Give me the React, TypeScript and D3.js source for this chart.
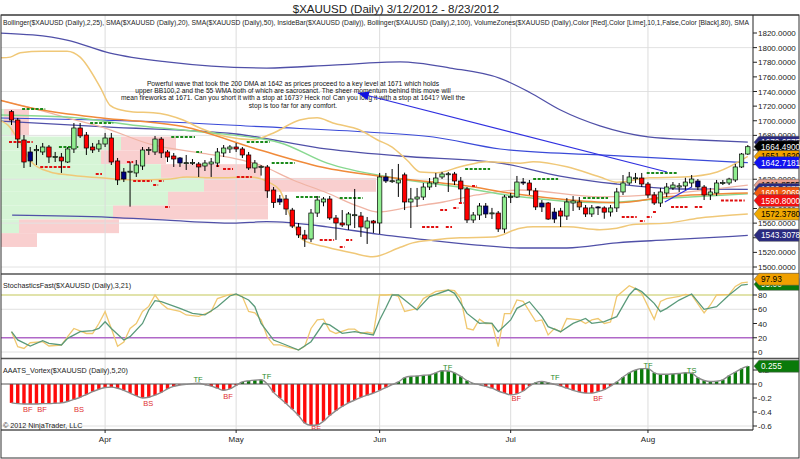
import React from 'react';
import * as d3 from 'd3';

// ---------- DATA ----------
const opens = [1712.4,1701.0,1673.7,1657.3,1659.0,1657.3,1664.1,1650.4,1650.4,1643.6,1661.4,1690.1,1680.5,1664.1,1661.4,1668.2,1676.4,1645.0,1629.9,1630.0,1628.6,1638.1,1659.5,1657.3,1675.0,1657.3,1651.8,1649.1,1642.2,1642.5,1640.9,1638.1,1640.9,1642.2,1655.9,1661.4,1664.1,1661.4,1653.2,1635.4,1637.0,1636.8,1605.3,1593.0,1593.0,1577.9,1554.7,1543.8,1538.3,1573.8,1588.9,1593.0,1567.0,1560.2,1557.5,1571.0,1569.7,1553.3,1562.9,1560.2,1623.1,1617.6,1614.9,1626.0,1588.9,1593.0,1595.7,1609.4,1614.9,1623.1,1627.2,1627.2,1617.6,1606.7,1564.3,1571.1,1583.4,1573.0,1573.8,1552.0,1595.7,1595.7,1616.2,1614.9,1604.0,1587.5,1587.5,1575.2,1576.6,1569.7,1587.5,1588.9,1580.8,1572.5,1582.1,1580.8,1575.2,1580.8,1602.6,1614.9,1621.5,1621.7,1613.5,1598.5,1587.5,1601.2,1608.1,1609.4,1610.8,1614.9,1617.6,1609.4,1598.5,1601.2,1614.9,1614.9,1619.0,1636.8,1654.5];
const highs = [1714.7,1703.8,1680.5,1664.1,1666.8,1669.6,1666.8,1657.3,1655.9,1664.1,1696.9,1696.9,1684.6,1669.6,1673.7,1683.3,1683.3,1649.1,1635.4,1644.0,1646.3,1664.1,1664.1,1679.2,1677.8,1660.0,1655.9,1650.4,1653.2,1647.7,1643.6,1646.3,1649.1,1662.7,1666.8,1666.8,1669.6,1664.1,1657.3,1646.3,1639.5,1639.5,1609.4,1598.5,1598.5,1580.8,1560.2,1550.7,1579.3,1597.1,1595.7,1597.1,1571.1,1577.9,1575.2,1606.7,1575.2,1568.4,1564.3,1628.6,1628.6,1634.0,1640.9,1629.0,1608.1,1608.1,1614.9,1621.7,1628.6,1630.0,1630.0,1630.0,1623.1,1609.4,1575.2,1587.5,1587.5,1580.8,1576.6,1598.5,1601.2,1624.5,1621.7,1619.0,1608.1,1591.6,1588.9,1580.8,1580.8,1594.3,1597.1,1595.7,1584.8,1584.8,1583.3,1583.0,1584.8,1608.1,1625.8,1630.0,1628.6,1628.6,1616.2,1602.6,1608.1,1614.9,1616.2,1614.9,1622.0,1625.8,1620.3,1612.1,1608.1,1619.0,1619.0,1622.0,1640.9,1655.9,1666.8];
const lows = [1694.2,1662.7,1635.4,1636.8,1639.5,1653.2,1642.2,1643.6,1628.6,1642.2,1655.9,1676.4,1653.2,1655.9,1657.3,1664.1,1639.5,1612.1,1616.2,1582.5,1623.1,1632.7,1653.2,1653.2,1649.1,1643.6,1636.8,1636.8,1632.7,1639.5,1623.1,1631.3,1623.1,1636.8,1650.4,1655.9,1657.3,1649.1,1632.7,1628.6,1625.0,1594.5,1580.8,1584.8,1571.1,1553.3,1539.7,1527.4,1534.2,1568.4,1583.0,1564.3,1537.0,1554.7,1550.7,1553.3,1541.1,1531.5,1546.6,1545.2,1614.9,1614.9,1595.8,1577.9,1553.3,1582.1,1591.6,1605.3,1609.4,1620.3,1602.6,1612.1,1588.9,1560.2,1560.2,1564.3,1567.0,1565.6,1547.9,1546.6,1587.5,1594.3,1612.1,1598.5,1577.9,1575.2,1564.3,1560.2,1554.7,1564.3,1576.6,1577.9,1568.4,1568.4,1571.1,1566.0,1569.0,1575.2,1598.5,1612.1,1614.9,1609.4,1594.5,1584.8,1582.1,1595.7,1605.3,1602.6,1605.3,1609.0,1605.3,1591.6,1591.6,1597.1,1612.1,1612.1,1616.2,1635.4,1653.2];
const closes = [1701.0,1675.0,1643.6,1645.0,1660.5,1664.1,1650.4,1651.0,1645.0,1661.4,1690.1,1679.2,1662.7,1660.0,1668.2,1676.4,1643.6,1619.0,1620.3,1631.0,1639.5,1660.0,1660.5,1675.0,1655.9,1650.4,1647.7,1642.2,1642.7,1643.0,1636.8,1642.2,1643.6,1657.3,1662.7,1664.1,1661.4,1653.2,1635.4,1642.2,1637.5,1604.1,1588.2,1588.9,1579.3,1556.0,1543.8,1538.3,1573.8,1591.6,1593.0,1567.0,1560.2,1557.5,1572.5,1571.5,1554.7,1562.9,1560.2,1623.1,1617.6,1618.0,1619.0,1588.9,1593.0,1595.7,1609.4,1614.9,1621.7,1627.2,1627.5,1617.6,1606.7,1564.3,1571.1,1583.4,1572.5,1574.0,1552.0,1595.7,1596.5,1616.2,1614.9,1605.3,1582.1,1582.1,1565.6,1565.6,1569.7,1588.9,1590.3,1582.1,1572.5,1580.8,1580.8,1575.0,1580.8,1602.6,1614.9,1623.1,1622.0,1613.5,1598.5,1587.5,1602.6,1609.4,1612.1,1611.0,1616.2,1620.3,1609.4,1598.5,1602.6,1614.9,1615.5,1620.3,1636.8,1654.5,1664.49];
const insideBars = [3,18,27,43,60,76,82,85,87,94,110];
const orangeBars = [91];

const monthIdx = [15,36,59,80,102];
const monthNames = ['Apr','May','Jun','Jul','Aug'];
const priceTicks = d3.range(1500, 1821, 20);
const priceGrid = [1500,1560,1620,1680,1740,1800];
const stochTicks = [0,20,40,60,80];
const vortexTicks = [0.2,0,-0.2,-0.4,-0.6];

// indicator lines [barIndex, price]
const bb25Upper = [[-1.8,1786],[-0.2,1787],[1.4,1793],[5,1795],[8.9,1795],[11,1787],[14.2,1746],[15.8,1721],[17.4,1715],[19.5,1712],[22.7,1711],[27.5,1701],[30.2,1690],[34.5,1678],[38.7,1674],[41.9,1683],[46.2,1701],[49,1704],[51.5,1697],[55.9,1687],[58.6,1674],[61,1664],[63.4,1646],[65.5,1630],[68.2,1629],[71.9,1637],[76.2,1644],[81.5,1642],[83.6,1644],[89,1637],[94.3,1623],[97,1616],[102.3,1622],[107.6,1623],[113.1,1630],[118,1651.2]];
const bb25Lower = [[-1.8,1700],[-0.56,1694],[1.36,1670],[3.4,1642],[6.2,1630],[8.9,1626],[14.2,1622],[19.5,1619],[24.9,1620],[28.1,1623],[32.9,1622],[38.2,1623],[41.4,1615],[43,1605],[44.6,1571],[46.7,1537],[50.6,1527],[54.7,1519],[57.9,1514],[62.3,1527],[64.3,1533],[67.6,1537],[71.9,1540],[77.2,1541],[81.5,1553],[83.6,1555],[89,1555],[94.3,1551],[97,1553],[99.6,1558],[105,1560],[110.3,1567],[115.6,1571],[118,1572.4]];
const bb25Mid = [[-1.8,1728],[3.4,1717],[8.9,1704],[15,1690],[22.2,1668],[30.2,1656],[36,1648],[39.8,1639.5],[45.1,1619],[50.6,1601.2],[55.85,1582.1],[58.6,1575.2],[63.9,1582.1],[69.2,1588.9],[74.6,1598.5],[81.5,1605.3],[94.3,1596],[105,1600],[118,1611.9]];
const sma20 = [[-1.8,1728],[3.4,1717],[14.2,1704],[27.5,1692],[39.8,1660],[50.6,1635],[61.1,1622],[71.9,1612],[81.5,1599],[89,1592],[97,1588],[105,1596],[118,1601.2]];
const sma50 = [[-1.8,1708],[8.9,1705],[19.5,1694],[30.2,1685],[43,1670],[50.6,1642],[61.1,1622],[71.9,1609],[81.5,1596],[94.3,1588],[105,1594],[118,1600]];
const bb100Upper = [[-1.8,1820],[3.4,1817.3],[8.9,1810.4],[15.8,1792.6],[24.9,1780.4],[40.9,1772.1],[51.5,1776.2],[62.3,1780.4],[70.3,1772.1],[78.3,1758],[83,1739],[87.9,1715],[94.3,1693],[102,1678],[110.3,1673.7],[118,1670.7]];
const bb100Mid = [[-1.8,1699.6],[15,1691.5],[36,1681.9],[49.4,1662.7],[62.3,1651.8],[78.3,1642.2],[87.9,1624.4],[97,1613.5],[107.1,1606.7],[118,1606.1]];
const bb100Lower = [[0.1,1571],[15.8,1568],[24.9,1564],[35.5,1560],[40.9,1562],[50.6,1555],[58.6,1545],[66.6,1537],[74.6,1530],[81.5,1526],[89,1526],[97,1533],[105,1537],[115.6,1542],[118,1543.3]];
const sma200 = [[-1.8,1703.8],[14.2,1701],[24.9,1698.3],[40.9,1691.5],[57,1684.6],[67.6,1677.8],[78.3,1661.4],[94.3,1653.2],[118,1642.7]];
const arrowLine = [[105.05,1629.9],[55.5,1737.9]];
const trendLine = [[104.7,1588.9],[109,1609.4]];

// inside bar levels [startIdx, endIdx, price]
const insideHighs = [[1.7,5.4,1716.1],[7.6,10.7,1664.1],[12.6,16.3,1696.9],[25.6,29.4,1677.8],[29.6,30.5,1657.3],[37.7,41.4,1670.9],[41.7,45.4,1642.2],[45.6,49.4,1595.7],[52.6,56.3,1594.3],[72.7,76.7,1634.0],[83.6,87.6,1620.3],[91.6,95.6,1594.3],[101.8,106.6,1628.6]];
const insideLows = [[-0.4,3.4,1670.9],[4.6,9.4,1636.8],[13.5,14.5,1627.2],[18.5,19.5,1643.6],[19.5,22.5,1617.6],[22.7,23.5,1612.1],[23.6,24.4,1617.6],[24.6,25.4,1582.1],[32.8,33.4,1638.1],[33.9,35.5,1634.0],[36.1,38.5,1623.1],[49.4,51.7,1537.0],[53.6,54.6,1537.0],[52.6,53.4,1527.4],[65.8,68.4,1554.7],[69.6,70.6,1554.7],[68.7,69.8,1577.9],[70.8,71.6,1580.8],[71.7,72.5,1587.5],[73.8,74.6,1610.8],[97.8,100.2,1568.4],[100.7,101.5,1562.9],[101.8,102.6,1568.4],[102.8,103.4,1575.2],[105.7,108.4,1582.1],[109.5,110.7,1582.1],[113.7,117.5,1590.8]];

// volume zones: top price, bottom price, up volume, down volume
const zoneTops = [1716.1,1697.2,1678.4,1659.5,1640.6,1621.8,1602.9,1584.0,1565.1,1546.3];
const zoneBottoms = [1697.2,1678.4,1659.5,1640.6,1621.8,1602.9,1584.0,1565.1,1546.3,1527.4];
const zoneUpVol = [3,10,120,100,160,203,167,112,18,0];
const zoneDownVol = [25,18,55,65,100,172,100,155,100,36];

const stochK = [[0,28.5],[1,7.5],[2,5],[3,13],[5,14.5],[6,8.4],[8,9.8],[9,21.5],[10,33],[12,26],[13,26],[14,40],[15,56.6],[16,33],[17,8],[18,14],[19,33],[20,40],[21,57],[22,64],[23,80],[24,68],[25,61],[27,57],[28,52],[30,50],[32,57],[33,75],[35,81],[36,81],[37,78],[38,57],[39,55],[40,45],[41,21],[42,10],[43,10],[45,5],[46,3],[47,8],[48,33],[49,45],[50,46],[51,30],[52,26],[54,32],[55,32],[56,26],[57,28],[58,26],[59,80],[60,80],[61,81],[62,78],[63,57],[65,61],[66,75],[68,85],[70,87],[71,86],[72,75],[73,33],[74,31],[75,46],[76,40],[77,40],[78,7.5],[79,54],[80,54],[81,73],[82,71],[84,43],[85,45],[86,24],[87,33],[88,28],[89,47],[91,45],[92,40],[93,45],[94,47],[95,40],[96,42],[97,78],[99,93],[100,89],[101,82],[102,64],[103,46],[104,71],[105,75],[107,78],[108,81],[109,80],[111,55],[112,66],[113,80],[115,81],[116,92],[117,97],[118,97.93]];
const stochD = [[0,28.5],[1,17],[3,8.4],[5,15.9],[6,12.2],[8,9.8],[9,19.2],[11,28.5],[13,30],[14,33],[15,42.5],[16,33],[18,16.8],[19,21.5],[21,40],[22,59],[23,72],[24,70.6],[27,61.3],[29,54.2],[31,52],[33,63.6],[35,78.6],[36,81.4],[38,73],[39,63.6],[40,40],[42,16.8],[44,9.8],[46,2.8],[48,14.5],[50,40.2],[51,38],[53,26.2],[55,28.5],[58,24],[59,45],[60,62],[61,80],[62,80],[65,59],[67,77.7],[70,87],[71,82.3],[73,54.2],[75,40.2],[76,41],[77,40.2],[78,28.5],[80,45],[81,61.3],[83,70.6],[85,49.6],[86,35.6],[88,28.5],[90,40.2],[92,47],[93,40.2],[95,42.5],[97,49.6],[99,80],[100,89.4],[101,84.7],[103,68.3],[104,56.6],[105,61.3],[107,72.9],[109,81.4],[111,59.9],[113,63.6],[115,80],[117,94],[118,95]];

const vortex = [-0.27,-0.28,-0.285,-0.285,-0.285,-0.28,-0.28,-0.275,-0.27,-0.25,-0.22,-0.19,-0.15,-0.11,-0.075,-0.05,-0.045,-0.06,-0.09,-0.13,-0.17,-0.2,-0.19,-0.16,-0.12,-0.07,-0.035,-0.015,-0.005,0.005,0.01,-0.01,-0.03,-0.06,-0.09,-0.07,-0.02,0.03,0.045,0.055,0.06,0.0,-0.12,-0.2,-0.28,-0.36,-0.45,-0.56,-0.59,-0.585,-0.53,-0.45,-0.38,-0.32,-0.27,-0.23,-0.19,-0.16,-0.13,-0.09,-0.05,-0.01,0.03,0.09,0.11,0.115,0.125,0.13,0.16,0.19,0.185,0.16,0.11,0.05,0.01,-0.01,-0.035,-0.06,-0.1,-0.13,-0.155,-0.14,-0.1,-0.03,0.02,0.035,0.02,-0.005,-0.03,-0.06,-0.09,-0.115,-0.13,-0.13,-0.11,-0.08,-0.03,0.03,0.1,0.16,0.2,0.22,0.22,0.16,0.14,0.14,0.145,0.15,0.16,0.155,0.09,0.05,0.035,0.04,0.06,0.12,0.17,0.22,0.255];
const vortexMarkIdx = [2.6,4.9,10.8,21.9,34.7,29.9,40.9,48.8,69.9,87.1,80.9,94,102,109];
const vortexMarkVal = [-0.357,-0.357,-0.357,-0.27,-0.17,0.07,0.114,-0.63,0.243,0.1,-0.2,-0.2,0.27,0.2];
const vortexMarkText = ['BF','BF','BS','BS','BF','TF','TF','BF','TF','TF','BF','BF','TF','TS'];

const priceTagValues = [1670.6575,1664.49,1651.162,1642.7181,1611.8555,1606.0877,1601.2069,1590.8,1572.378,1543.3078];
const priceTagBg = ['#2a2a80','#000000','#f0a000','#1010f0','#e8a090','#2a2a80','#f05a10','#f01010','#f0a800','#2a2a80'];
const priceTagFg = ['#fff','#fff','#000','#fff','#000','#fff','#fff','#fff','#000','#fff'];

const legendText = 'Bollinger($XAUUSD (Daily),2,25), SMA($XAUUSD (Daily),20), SMA($XAUUSD (Daily),50), InsideBar($XAUUSD (Daily)), Bollinger($XAUUSD (Daily),2,100), VolumeZones($XAUUSD (Daily),Color [Red],Color [Lime],10,1,False,Color [Black],80), SMA';
const noteLines = [
  'Powerful wave that took the 200 DMA at 1642 as prices proceed to a key level at 1671 which holds',
  'upper BB100,2 and the 55 WMA both of which are sacrosanct. The sheer momentum behind this move will',
  'mean fireworks at 1671. Can you short it with a stop at 1673? Heck no! Can you long it with a stop at 1641? Well the',
  'stop is too far for any comfort.'
];

// ---------- LAYOUT ----------
const AX = 753;
const P_TOP = 15, P_BOT = 274, S_TOP = 274, S_BOT = 358.5, V_TOP = 358.5, V_BOT = 430;
const FONT = "'Liberation Sans', Arial, Helvetica, sans-serif";

export default function App() {
  const x = d3.scaleLinear().domain([0, 118]).range([11.5, 747.8]);
  const yP = d3.scaleLinear().domain([1500, 1820]).range([267, 33]);
  const yS = d3.scaleLinear().domain([0, 80]).range([352, 295]);
  const yV = d3.scaleLinear().domain([-0.6, 0]).range([426, 384]);
  const volX = d3.scaleLinear().domain([0, 400]).range([1, 401]);

  const pLine = d3.line<number[]>().x(d => x(d[0])).y(d => yP(d[1])).curve(d3.curveMonotoneX);
  const sLine = d3.line<number[]>().x(d => x(d[0])).y(d => yS(d[1]));
  const vLine = d3.line<number>().x((d, i) => x(i)).y(d => yV(d)).curve(d3.curveMonotoneX);

  const bw = 4.4;
  const candles = opens.map((o, i) => {
    const c = closes[i];
    let fill = c >= o ? '#90ee90' : '#ff0000';
    if (insideBars.includes(i)) fill = '#000080';
    if (orangeBars.includes(i)) fill = '#e8601c';
    const yTop = yP(Math.max(o, c));
    const h = Math.max(1, Math.abs(yP(o) - yP(c)));
    return (
      <g key={i}>
        <line x1={x(i)} x2={x(i)} y1={yP(highs[i])} y2={yP(lows[i])} stroke="#000" strokeWidth={1} />
        <rect x={x(i) - bw / 2} y={yTop} width={bw} height={h} fill={fill} stroke="#000" strokeWidth={0.7} />
      </g>
    );
  });

  const tagW = 46;
  const tag = (yc: number, bg: string, fg: string, label: string, key: string) => (
    <g key={key}>
      <path d={`M${AX + 1},${yc} L${AX + 6},${yc - 6} L${AX + tagW},${yc - 6} L${AX + tagW},${yc + 6} L${AX + 6},${yc + 6} Z`} fill={bg} stroke="#555" strokeWidth={0.5} />
      <text x={AX + 8} y={yc + 3} fontSize={8.3} fill={fg}>{label}</text>
    </g>
  );

  return (
    <svg width={800} height={459} style={{ position: 'absolute', left: 0, top: 0, background: '#fff' }} fontFamily={FONT}>
      <defs>
        <clipPath id="cp"><rect x={1} y={P_TOP} width={AX - 1} height={P_BOT - P_TOP} /></clipPath>
        <clipPath id="cs"><rect x={1} y={S_TOP} width={AX - 1} height={S_BOT - S_TOP} /></clipPath>
        <clipPath id="cv"><rect x={1} y={V_TOP} width={AX - 1} height={V_BOT - V_TOP} /></clipPath>
      </defs>
      <rect x={0} y={0} width={800} height={459} fill="#fff" />
      <text x={396} y={13} fontSize={11.5} textAnchor="middle" fill="#222">$XAUUSD (Daily)  3/12/2012 - 8/23/2012</text>

      {/* PRICE PANEL */}
      <g clipPath="url(#cp)">
        {zoneTops.map((t, k) => (
          <g key={k}>
            <rect x={volX(0)} y={yP(t)} width={volX(zoneUpVol[k]) - volX(0)} height={yP(zoneBottoms[k]) - yP(t)} fill="#d6f5d6" />
            <rect x={volX(zoneUpVol[k])} y={yP(t)} width={volX(zoneDownVol[k]) - volX(0)} height={yP(zoneBottoms[k]) - yP(t)} fill="#f9cfcf" />
          </g>
        ))}
        {priceGrid.map(v => <line key={v} x1={1} x2={AX} y1={yP(v)} y2={yP(v)} stroke="#e2e2e2" />)}
        {monthIdx.map(m => <line key={m} x1={x(m)} x2={x(m)} y1={P_TOP} y2={P_BOT} stroke="#dcdcdc" />)}

        <path d={pLine(bb100Upper as any)!} fill="none" stroke="#5050a8" strokeWidth={1.3} />
        <path d={pLine(bb100Mid as any)!} fill="none" stroke="#5050a8" strokeWidth={1.3} />
        <path d={pLine(bb100Lower as any)!} fill="none" stroke="#5050a8" strokeWidth={1.3} />
        <path d={pLine(sma200 as any)!} fill="none" stroke="#3a4ad8" strokeWidth={1.2} />
        <path d={pLine(bb25Upper as any)!} fill="none" stroke="#f0c878" strokeWidth={1.5} />
        <path d={pLine(bb25Lower as any)!} fill="none" stroke="#f0c878" strokeWidth={1.5} />
        <path d={pLine(bb25Mid as any)!} fill="none" stroke="#f0b4a4" strokeWidth={1.3} />
        <path d={pLine(sma50 as any)!} fill="none" stroke="#88d890" strokeWidth={1.5} />
        <path d={pLine(sma20 as any)!} fill="none" stroke="#f08a3a" strokeWidth={1.5} />

        {insideHighs.map((d, k) => <line key={'h' + k} x1={x(d[0])} x2={x(d[1])} y1={yP(d[2])} y2={yP(d[2])} stroke="#1a8a1a" strokeWidth={2} strokeDasharray="3,1.5" />)}
        {insideLows.map((d, k) => <line key={'l' + k} x1={x(d[0])} x2={x(d[1])} y1={yP(d[2])} y2={yP(d[2])} stroke="#e01010" strokeWidth={2} strokeDasharray="3,1.5" />)}

        {candles}

        <text fontSize={6.7} fill="#111" textAnchor="middle">
          {noteLines.map((t, k) => <tspan key={k} x={293} y={85.5 + k * 7.4}>{t}</tspan>)}
        </text>
        <line x1={x(arrowLine[0][0])} y1={yP(arrowLine[0][1])} x2={x(arrowLine[1][0])} y2={yP(arrowLine[1][1])} stroke="#3030e0" strokeWidth={1.2} />
        <line x1={x(trendLine[0][0])} y1={yP(trendLine[0][1])} x2={x(trendLine[1][0])} y2={yP(trendLine[1][1])} stroke="#3030e0" strokeWidth={1.2} />
        {(() => {
          const x1 = x(arrowLine[1][0]), y1 = yP(arrowLine[1][1]);
          const ang = Math.atan2(yP(arrowLine[0][1]) - y1, x(arrowLine[0][0]) - x1);
          const L = 11, Wd = 4.5;
          const bx = x1 + L * Math.cos(ang), by = y1 + L * Math.sin(ang);
          const px = -Math.sin(ang) * Wd, py = Math.cos(ang) * Wd;
          return <path d={`M${x1},${y1} L${bx + px},${by + py} L${bx - px},${by - py} Z`} fill="#1010e0" />;
        })()}
      </g>
      <text x={3} y={24.5} fontSize={7} fill="#222" textLength={746} lengthAdjust="spacingAndGlyphs">{legendText}</text>

      {/* STOCH PANEL */}
      <g clipPath="url(#cs)">
        {monthIdx.map(m => <line key={m} x1={x(m)} x2={x(m)} y1={S_TOP} y2={S_BOT} stroke="#dcdcdc" />)}
        <line x1={1} x2={AX} y1={yS(60)} y2={yS(60)} stroke="#e0e0e0" />
        <line x1={1} x2={AX} y1={yS(0)} y2={yS(0)} stroke="#e0e0e0" />
        <line x1={1} x2={AX} y1={yS(80)} y2={yS(80)} stroke="#c4c858" strokeWidth={1.2} />
        <line x1={1} x2={AX} y1={yS(20)} y2={yS(20)} stroke="#b068c8" strokeWidth={1.5} />
        <path d={sLine(stochK as any)!} fill="none" stroke="#f0c870" strokeWidth={1.3} />
        <path d={sLine(stochD as any)!} fill="none" stroke="#5a9a7a" strokeWidth={1.3} />
        <text x={3} y={288} fontSize={7.2} fill="#222">StochasticsFast($XAUUSD (Daily),3,21)</text>
      </g>

      {/* VORTEX PANEL */}
      <g clipPath="url(#cv)">
        {monthIdx.map(m => <line key={m} x1={x(m)} x2={x(m)} y1={V_TOP} y2={V_BOT} stroke="#dcdcdc" />)}
        <line x1={1} x2={AX} y1={yV(-0.6)} y2={yV(-0.6)} stroke="#e0e0e0" />
        {vortex.map((v, i) => (
          <rect key={i} x={x(i) - 1.7} width={3.4} y={Math.min(yV(0), yV(v))} height={Math.abs(yV(v) - yV(0))} fill={v >= 0 ? '#0a7a0a' : '#ff0a0a'} />
        ))}
        <line x1={1} x2={AX} y1={yV(0)} y2={yV(0)} stroke="#555" strokeWidth={1} />
        <path d={vLine(vortex)!} fill="none" stroke="#8a8a8a" strokeWidth={1.4} />
        {vortexMarkIdx.map((m, k) => (
          <text key={k} x={x(m)} y={yV(vortexMarkVal[k]) + 3} fontSize={7.5} textAnchor="middle" fill={vortexMarkText[k][0] === 'B' ? '#e03030' : '#2a8a2a'}>{vortexMarkText[k]}</text>
        ))}
        <text x={3} y={373} fontSize={7.2} fill="#222">AAATS_Vortex($XAUUSD (Daily),5,20)</text>
        <text x={3} y={428} fontSize={7.2} fill="#222">© 2012 NinjaTrader, LLC</text>
      </g>

      {/* separators & frame */}
      <line x1={1} x2={799} y1={P_TOP} y2={P_TOP} stroke="#444" strokeWidth={1} />
      <line x1={1} x2={799} y1={P_BOT} y2={P_BOT} stroke="#555" strokeWidth={1.5} />
      <line x1={1} x2={799} y1={S_BOT} y2={S_BOT} stroke="#555" strokeWidth={1.5} />
      <line x1={1} x2={AX} y1={V_BOT} y2={V_BOT} stroke="#555" strokeWidth={1.5} />
      <line x1={AX} x2={AX} y1={P_TOP} y2={V_BOT} stroke="#222" strokeWidth={1} />
      <rect x={1} y={P_TOP} width={798} height={458 - P_TOP} fill="none" stroke="#333" strokeWidth={1} />

      {/* price axis */}
      {priceTicks.map(v => (
        <g key={v}>
          <line x1={AX} x2={AX + 4} y1={yP(v)} y2={yP(v)} stroke="#222" />
          <text x={AX + 5} y={yP(v) + 3} fontSize={8} fill="#222">{v.toFixed(4)}</text>
        </g>
      ))}
      {priceTagValues.map((v, k) => tag(yP(v), priceTagBg[k], priceTagFg[k], v.toFixed(4), 'pt' + k))}

      {/* stoch axis */}
      {stochTicks.map(v => (
        <g key={v}>
          <line x1={AX} x2={AX + 4} y1={yS(v)} y2={yS(v)} stroke="#222" />
          <text x={AX + 5} y={yS(v) + 3} fontSize={8} fill="#222">{v}</text>
        </g>
      ))}
      {tag(yS(95), '#0a7a0a', '#fff', '95.00', 'sd')}
      {tag(yS(97.93) - 3, '#f0a000', '#000', '97.93', 'sk')}

      {/* vortex axis */}
      {vortexTicks.map(v => (
        <g key={v}>
          <line x1={AX} x2={AX + 4} y1={yV(v)} y2={yV(v)} stroke="#222" />
          <text x={AX + 5} y={yV(v) + 3} fontSize={8} fill="#222">{v === 0 ? '0' : v.toFixed(1)}</text>
        </g>
      ))}
      {tag(yV(vortex[118]), '#0a7a0a', '#fff', vortex[118].toFixed(3), 'vt')}

      {/* x axis */}
      {monthIdx.map((m, k) => (
        <g key={m}>
          <line x1={x(m)} x2={x(m)} y1={V_BOT} y2={V_BOT + 3} stroke="#222" />
          <text x={x(m)} y={442} fontSize={8} textAnchor="middle" fill="#222">{monthNames[k]}</text>
        </g>
      ))}
    </svg>
  );
}
